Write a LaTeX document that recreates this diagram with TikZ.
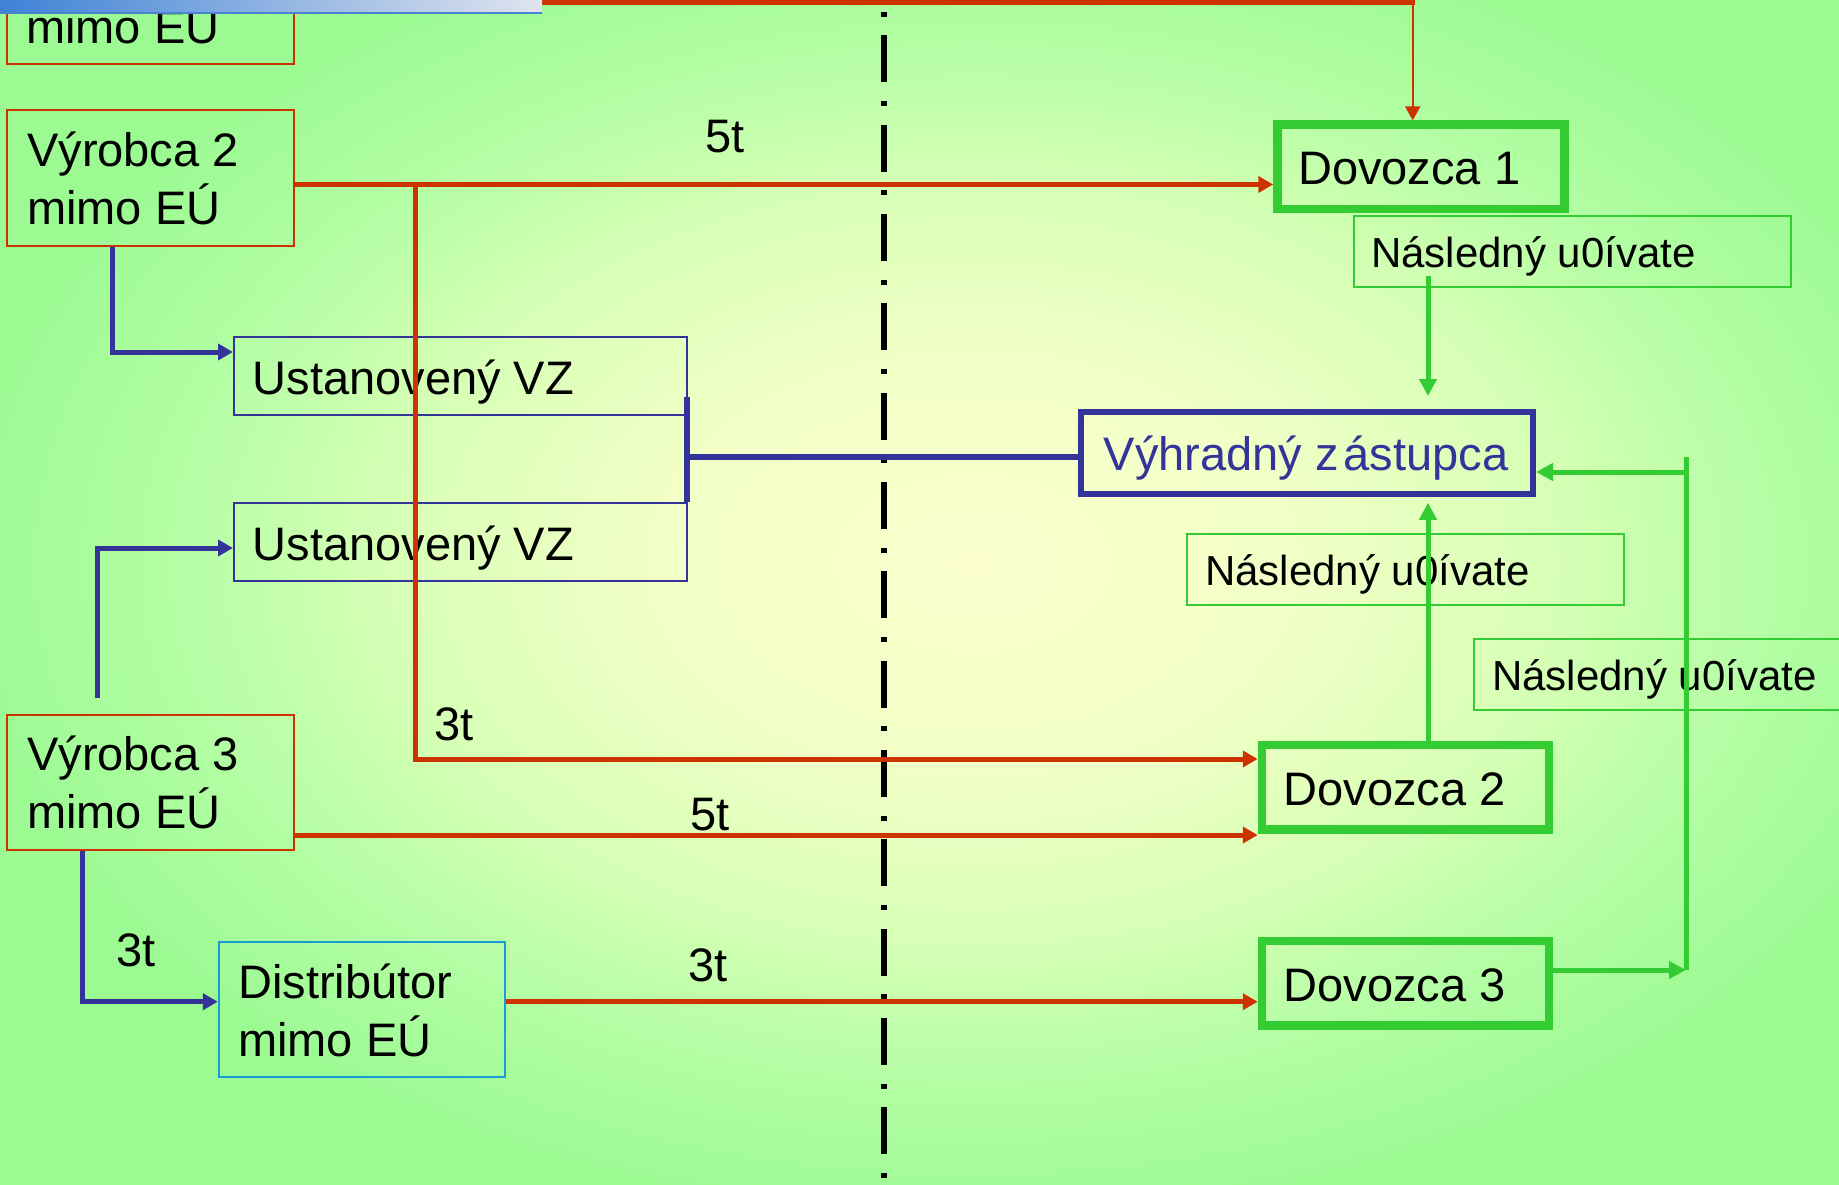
\documentclass[tikz,border=0pt]{standalone}
\usepackage{fontspec}
\setmainfont{Liberation Sans}
\usetikzlibrary{arrows.meta,calc}
\definecolor{cred}{RGB}{204,51,0}
\definecolor{cgreen}{RGB}{51,204,51}
\definecolor{cblue}{RGB}{51,51,153}
\definecolor{ccyan}{RGB}{25,155,215}
\definecolor{bgA}{RGB}{250,255,205}
\definecolor{bgB}{RGB}{242,255,199}
\definecolor{bgC}{RGB}{215,255,182}
\definecolor{bgD}{RGB}{180,254,164}
\definecolor{bgE}{RGB}{155,250,146}
\definecolor{barL}{RGB}{62,130,214}
\definecolor{barR}{RGB}{224,228,238}
\definecolor{barLine}{RGB}{74,130,210}
\pgfdeclareradialshading{bgshade}{\pgfpoint{0bp}{0bp}}{color(0bp)=(bgA); color(8bp)=(bgB); color(14.5bp)=(bgC); color(20bp)=(bgD); color(25.5bp)=(bgE); color(50bp)=(bgE)}
\tikzset{
  redbox/.style={draw=cred, line width=2pt, inner sep=0pt},
  bluebox/.style={draw=cblue, line width=2pt, inner sep=0pt},
  cyanbox/.style={draw=ccyan, line width=2pt, inner sep=0pt},
  grbox/.style={draw=cgreen, line width=2pt, inner sep=0pt, minimum width=437pt, minimum height=71pt},
  dovbox/.style={draw=cgreen, line width=8.5pt, inner sep=0pt, minimum width=287pt, minimum height=84.5pt},
  vzbox/.style={draw=cblue, line width=6pt, inner sep=0pt},
  txt/.style={anchor=base west, inner sep=0pt, font=\fontsize{47}{57.3}\selectfont},
  txtsmall/.style={anchor=base west, inner sep=0pt, font=\fontsize{42}{50}\selectfont},
  redline/.style={draw=cred, line width=5pt},
  redarrow/.style={redline, -{Triangle[length=15pt,width=16pt]}},
  blueline/.style={draw=cblue, line width=5.5pt},
  bluearrow/.style={draw=cblue, line width=5pt, -{Triangle[length=15pt,width=16pt]}},
  grline/.style={draw=cgreen, line width=5pt},
  grarrow/.style={grline, -{Triangle[length=17pt,width=17pt]}},
  border/.style={draw=black, line width=6pt, dash pattern=on 47pt off 18.7pt on 5pt off 18.6pt, dash phase=53.8pt}
}
\begin{document}
\begin{tikzpicture}[x=1pt,y=-1pt]
\useasboundingbox (0,0) rectangle (1839,1185);
\clip (0,0) rectangle (1839,1185);
% background
\shade[shading=bgshade] (-27,-87) rectangle (1973,1213);
% border line
\coordinate (dtop) at (884,0);
\coordinate (dbot) at (884,1185);
\draw[border] (dtop) -- (dbot);
% boxes
\node[redbox, minimum width=287pt, minimum height=136pt] (v1) at (150.3,-4) {};
\node[redbox, minimum width=287pt, minimum height=136pt] (v2) at (150.3,177.9) {};
\node[redbox, minimum width=287pt, minimum height=135pt] (v3) at (150.3,782.5) {};
\node[cyanbox, minimum width=286.3pt, minimum height=134.7pt] (di) at (362,1009.4) {};
\node[bluebox, minimum width=453pt, minimum height=78pt] (u1) at (460.5,375.7) {};
\node[bluebox, minimum width=453pt, minimum height=77.7pt] (u2) at (460.5,542.2) {};
\node[grbox] (na) at (1572,251.3) {};
\node[grbox] (nb) at (1405.3,569.4) {};
\node[grbox] (nc) at (1692.8,674.9) {};
\node[dovbox] (d1) at (1421,166.9) {};
\node[dovbox] (d2) at (1405.5,787) {};
\node[dovbox] (d3) at (1405.5,983.3) {};
\node[vzbox, minimum width=452pt, minimum height=82.3pt] (vz) at (1307,453.2) {};
% texts
\node[txt] (v1t) at (26,43.3) {mimo EÚ};
\node[txt] (v2t) at (27,166.7) {\begin{tabular}[t]{@{}l@{}}Výrobca 2\\mimo EÚ\end{tabular}};
\node[txt] (v3t) at (27,770.7) {\begin{tabular}[t]{@{}l@{}}Výrobca 3\\mimo EÚ\end{tabular}};
\node[txt] (dit) at (238,998.3) {\begin{tabular}[t]{@{}l@{}}Distribútor\\mimo EÚ\end{tabular}};
\node[txt] (u1t) at (252.5,394) {Ustanovený VZ};
\node[txt] (u2t) at (252.5,560) {Ustanovený VZ};
\node[txt, text=cblue] (vzt) at (1103.5,470.7) {Výhradný z\kern5pt ástupca};
\node[txt] (d1t) at (1298,185) {Dovozca 1};
\node[txt] (d2t) at (1283.5,805) {Dovozca 2};
\node[txt] (d3t) at (1283.5,1001) {Dovozca 3};
\node[txtsmall] (nat) at (1371,267) {Následný u0ívate};
\node[txtsmall] (nbt) at (1205,585) {Následný u0ívate};
\node[txtsmall] (nct) at (1492,690.5) {Následný u0ívate};
\node[txt] (l1) at (705,152.5) {5t};
\node[txt] (l2) at (434,740.5) {3t};
\node[txt] (l3) at (690.3,830.7) {5t};
\node[txt] (l4) at (688,981.7) {3t};
\node[txt] (l5) at (116,966.7) {3t};
% coordinates
\coordinate (t1) at (1412.7,3);
\coordinate (t0) at (1415,3);
\coordinate (j1) at (415,184.5);
\coordinate (ry2) at (0,759);
\coordinate (ry3) at (0,835);
\coordinate (ry4) at (0,1001.7);
\coordinate (by1) at (112,352);
\coordinate (b2s) at (97.7,698);
\coordinate (b2e) at (0,548);
\coordinate (b3) at (82,1001.7);
\coordinate (brt) at (687,397);
\coordinate (brm) at (687,457);
\coordinate (ga) at (1428,276);
\coordinate (g1) at (1686,970);
\coordinate (g2) at (1686,456.8);
\coordinate (g3) at (1686,472);
% red connectors
\draw[redline] (v1.east |- t0) -- (t0);
\draw[draw=cred, line width=2.2pt, -{Triangle[length=14pt,width=15pt]}] (t1) -- (t1 |- d1.north);
\draw[redarrow] (v2.east |- j1) -- (d1.west |- j1);
\draw[redarrow] (j1) |- (d2.west |- ry2);
\draw[redarrow] (v3.east |- ry3) -- (d2.west |- ry3);
\draw[redarrow] (di.east |- ry4) -- (d3.west |- ry4);
% blue connectors
\draw[bluearrow] (v2.south -| by1) |- (u1.west |- by1);
\draw[bluearrow] (b2s) |- (u2.west |- b2e);
\draw[bluearrow] (v3.south -| b3) |- (di.west |- b3);
\draw[blueline] (brt) -- (brt |- u2.north);
\draw[blueline] (brm) -- (vz.west |- brm);
% green connectors
\draw[grarrow, shorten >=13pt] (ga) -- (ga |- vz.north);
\draw[grarrow, shorten >=5.4pt] (d2.north -| ga) -- (ga |- vz.south);
\draw[grarrow] (d3.east |- g1) -- (g1);
\draw[grline] (g1) -- (g2);
\draw[grarrow] (g3) -- (vz.east |- g3);
% top bar
\shade[left color=barL, right color=barR] (0,0) rectangle (542,14);
\draw[draw=barLine, line width=1.5pt] (0,13.2) -- (542,13.2);
\end{tikzpicture}
\end{document}
